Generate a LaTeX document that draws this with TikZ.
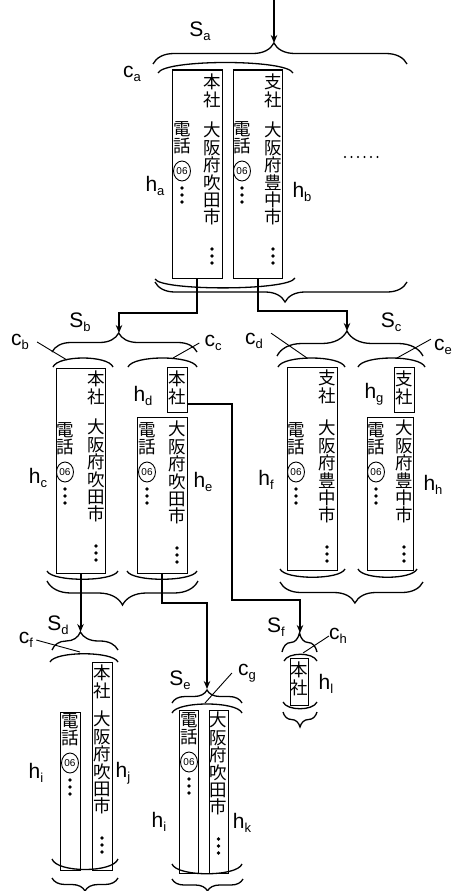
\documentclass[tikz,border=0pt]{standalone}
\usepackage{fontspec}
\setmainfont{Liberation Sans}
\newfontfamily\cjk{Noto Sans CJK JP}
\usetikzlibrary{arrows.meta,decorations.pathreplacing,shapes.geometric}

\newcommand{\lab}[2]{#1\raisebox{-0.35ex}{\fontsize{13}{13}\selectfont #2}}
\newcommand{\tridots}[2]{\foreach \k in {0,1,2} \fill (#1,#2+7*\k) circle (1.9pt);}
\newcommand{\telcol}[3]{\node[jp] (#1) at (#2,#3) {電\\話};
  \node[ring] (#1r) at (#2,#3+50) {06};
  \tridots{#2}{#3+67}}
\newcommand{\addrcol}[5]{\node[jp] (#1) at (#2,#3) {大\\阪\\府\\#4\\#5\\市};
  \tridots{#2}{#3+127}}

\begin{document}
\begin{tikzpicture}[x=1pt, y=-1pt, >={Stealth[length=8pt,width=6.5pt]},
  card/.style={draw, line width=1pt, inner sep=0pt},
  jp/.style={font=\cjk\fontsize{17.5}{17.4}\selectfont, align=center, inner sep=0pt, anchor=north},
  ring/.style={ellipse, draw, line width=0.9pt, minimum width=17pt, minimum height=20pt, inner sep=0pt, font=\fontsize{10}{10}\selectfont},
  wire/.style={line width=2pt},
  lead/.style={line width=0.9pt},
  arcline/.style={line width=1.3pt},
  brc/.style 2 args={decorate, decoration={brace, amplitude=#1, aspect=#2}, line width=1.3pt},
  lbl/.style={font=\fontsize{21}{21}\selectfont, inner sep=0pt}]
  \useasboundingbox (0,0) rectangle (458,891);

  % S_a: the two cards at the top
  \coordinate (top) at (274,0);
  \coordinate (sa) at (274,43);
  \draw[wire,->] (top) -- (sa);
  \draw[brc={21pt}{0.476}] (153,64) -- (407,64);
  \draw[arcline] (158,73) .. controls (164,59) and (287,59) .. (293,73);
  \node[card, minimum width=50, minimum height=208] (ha) at (197,174) {};
  \node[card, minimum width=49, minimum height=208] (hb) at (257.5,174) {};
  \node[jp] (ha1) at (212,74) {本\\社};
  \addrcol{ha2}{212}{122}{吹}{田}
  \telcol{ha3}{182}{121}
  \node[jp] (hb1) at (273,74) {支\\社};
  \addrcol{hb2}{273}{122}{豊}{中}
  \telcol{hb3}{242}{121}
  \foreach \k in {0,...,5} \fill (345+6.5*\k,157) circle (1.1pt);
  \draw[arcline] (155,279) .. controls (161,291) and (289,291) .. (295,278);
  \draw[brc={20pt}{0.484}] (407,282) -- (155,282);
  \node[lbl] (Sa) at (200,31) {\lab{S}{a}};
  \node[lbl] (ca) at (132,74) {\lab{c}{a}};
  \node[lbl] (la) at (155,186) {\lab{h}{a}};
  \node[lbl] (lb) at (302,192) {\lab{h}{b}};

  % S_b
  \coordinate (sb) at (119,333);
  \draw[wire,->] (ha.south) -- ++(0,34) -| (sb);
  \draw[brc={19pt}{0.46}] (52,352) -- (197,352);
  \draw[arcline] (53,367) .. controls (58,355) and (108,355) .. (113,367);
  \draw[arcline] (128,367) .. controls (133,355) and (192,355) .. (197,367);
  \node[card, minimum width=49, minimum height=205] (hc) at (80.5,470.5) {};
  \node[jp] (hc1) at (96,371) {本\\社};
  \addrcol{hc2}{96}{419}{吹}{田}
  \telcol{hc3}{65}{422}
  \node[card, minimum width=20, minimum height=45] (hd) at (177,389.5) {};
  \node[jp] (hd1) at (177,371) {本\\社};
  \node[card, minimum width=50, minimum height=156] (he) at (162,495) {};
  \addrcol{he2}{177}{421}{吹}{田}
  \telcol{he3}{147}{422}
  \draw[arcline] (47,571) .. controls (52,582) and (113,582) .. (118,571);
  \draw[arcline] (127,571) .. controls (132,582) and (192,582) .. (197,571);
  \draw[brc={24pt}{0.5}] (198,581) -- (47,581);
  \node[lbl] (Sb) at (80,322) {\lab{S}{b}};
  \node[lbl] (cb) at (20,342) {\lab{c}{b}};
  \draw[lead] ([xshift=8pt]cb.east) -- (67,360);
  \node[lbl] (cc) at (213,343) {\lab{c}{c}};
  \draw[lead] ([xshift=-5pt]cc.west) -- (173,358);
  \node[lbl] (lc) at (38,478) {\lab{h}{c}};
  \node[lbl] (ld) at (143,396) {\lab{h}{d}};
  \node[lbl] (le) at (203,482) {\lab{h}{e}};

  % S_c
  \coordinate (sc) at (347,331);
  \draw[wire,->] (hb.south) -- ++(0,32) -| (sc);
  \draw[brc={25pt}{0.479}] (277,356) -- (423,356);
  \draw[arcline] (278,367) .. controls (283,355) and (340,355) .. (345,367);
  \draw[arcline] (358,367) .. controls (363,355) and (420,355) .. (425,367);
  \node[card, minimum width=50, minimum height=203] (hf) at (312,468.5) {};
  \node[jp] (hf1) at (327,370) {支\\社};
  \addrcol{hf2}{327}{420}{豊}{中}
  \telcol{hf3}{296}{422}
  \node[card, minimum width=20, minimum height=45] (hg) at (404,389.5) {};
  \node[jp] (hg1) at (404,371) {支\\社};
  \node[card, minimum width=46, minimum height=153] (hh) at (390,493.5) {};
  \addrcol{hh2}{404}{420}{豊}{中}
  \telcol{hh3}{376}{422}
  \draw[arcline] (280,569) .. controls (285,580) and (340,580) .. (345,569);
  \draw[arcline] (358,569) .. controls (363,580) and (412,580) .. (417,569);
  \draw[brc={21pt}{0.476}] (423,582) -- (280,582);
  \node[lbl] (Sc) at (391,322) {\lab{S}{c}};
  \node[lbl] (cd) at (254,341) {\lab{c}{d}};
  \draw[lead] ([xshift=8pt]cd.north east) -- (307,358);
  \node[lbl] (ce) at (443,347) {\lab{c}{e}};
  \draw[lead] ([xshift=-3pt]ce.north west) -- (397,358);
  \node[lbl] (lf) at (266,480) {\lab{h}{f}};
  \node[lbl] (lg) at (374,394) {\lab{h}{g}};
  \node[lbl] (lh) at (433,485) {\lab{h}{h}};

  % S_d
  \coordinate (sd) at (80.5,632);
  \draw[wire,->] (hc.south) -- (sd);
  \draw[brc={18pt}{0.43}] (52,650) -- (118,650);
  \draw[arcline] (50,662) .. controls (55,651) and (113,651) .. (118,662);
  \node[card, minimum width=20, minimum height=208] (hj) at (102,766) {};
  \node[jp] (hj1) at (102,665) {本\\社};
  \addrcol{hj2}{102}{711}{吹}{田}
  \node[card, minimum width=20, minimum height=158] (hi) at (70,791) {};
  \telcol{hi3}{70}{713}
  \draw[arcline] (52,859) .. controls (57,873) and (113,873) .. (118,859);
  \draw[brc={13pt}{0.5}] (118,878) -- (52,878);
  \node[lbl] (Sd) at (58,625) {\lab{S}{d}};
  \node[lbl] (cf) at (26,640) {\lab{c}{f}};
  \draw[lead] ([xshift=3pt]cf.east) -- (80,652);
  \node[lbl] (li) at (36,773) {\lab{h}{i}};
  \node[lbl] (lj) at (123,773) {\lab{h}{j}};

  % S_e
  \coordinate (se) at (207,689);
  \draw[wire,->] (he.south) -- ++(0,29) -| (se);
  \draw[brc={13pt}{0.5}] (172,703) -- (242,703);
  \draw[arcline] (172,713) .. controls (177,701) and (237,701) .. (242,713);
  \node[card, minimum width=19, minimum height=163] (hi2) at (189,791.5) {};
  \telcol{hi4}{189}{712}
  \node[card, minimum width=19, minimum height=163] (hk) at (218.5,791.5) {};
  \addrcol{hk2}{218.5}{712}{吹}{田}
  \draw[arcline] (172,864) .. controls (177,877) and (237,877) .. (242,864);
  \draw[brc={12pt}{0.5}] (243,879) -- (172,879);
  \node[lbl] (Se) at (180,680) {\lab{S}{e}};
  \node[lbl] (cg) at (247,673) {\lab{c}{g}};
  \draw[lead] ([xshift=-6pt]cg.west) -- (205,703);
  \node[lbl] (li2) at (159,822) {\lab{h}{i}};
  \node[lbl] (lk) at (242,823) {\lab{h}{k}};

  % S_f
  \coordinate (sf) at (300,633);
  \draw[wire,->] ([yshift=-14pt]hd.east) -| ++(44,196) -| (sf);
  \draw[brc={19pt}{0.5}] (282,652) -- (317,652);
  \draw[arcline] (284,661) .. controls (288,652) and (313,652) .. (317,661);
  \node[card, minimum width=18, minimum height=47] (hl) at (299,681.5) {};
  \node[jp] (hl1) at (299,662) {本\\社};
  \draw[arcline] (283,702) .. controls (287,711) and (313,711) .. (317,702);
  \draw[brc={15pt}{0.5}] (317,712) -- (283,712);
  \node[lbl] (Sf) at (276,627) {\lab{S}{f}};
  \node[lbl] (ch) at (338,636) {\lab{c}{h}};
  \draw[lead] (ch.west) -- (303,653);
  \node[lbl] (ll) at (326,684) {\lab{h}{l}};
\end{tikzpicture}
\end{document}
